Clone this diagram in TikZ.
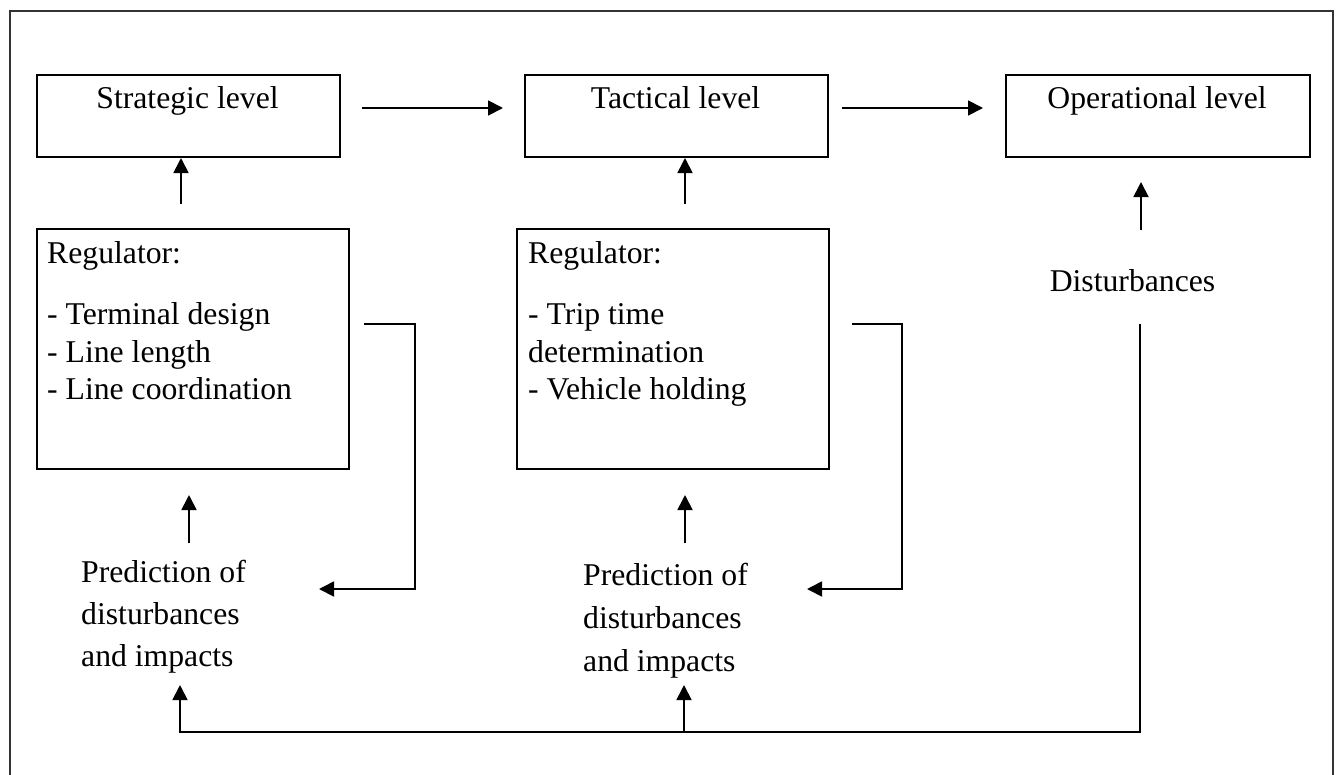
\documentclass[tikz,border=0pt]{standalone}
\usepackage{fontspec}
\setmainfont{Liberation Serif}
\usetikzlibrary{arrows.meta,calc}
\begin{document}
\begin{tikzpicture}[x=1pt,y=-1pt,
  box/.style={draw,line width=2pt,inner sep=0pt,anchor=north west},
  txt/.style={inner sep=0pt,font=\fontsize{31.7}{36}\selectfont},
  ln/.style={txt,anchor=base west},
  wire/.style={line width=1.8pt},
  conn/.style={wire,-{Triangle[length=15pt,width=15pt]}}]
\useasboundingbox (0,0) rectangle (1340,774);

% outer frame
\draw[line width=2.2pt,black!80] (10,790) -- (10,11) -- (1333,11) -- (1333,790);

% level boxes
\node[box,minimum width=303pt,minimum height=82pt] (strat) at (36,74) {};
\node[box,minimum width=303pt,minimum height=82pt] (tact)  at (524,74) {};
\node[box,minimum width=304pt,minimum height=82pt] (oper)  at (1005,74) {};
\node[txt,anchor=base] (stxt) at (187.5,108) {Strategic level};
\node[txt,anchor=base] (ttxt) at (675.5,108) {Tactical level};
\node[txt,anchor=base] (otxt) at (1157,108) {Operational level};

% regulator boxes
\node[box,minimum width=312pt,minimum height=240pt] (reg1) at (36,228) {};
\node[box,minimum width=312pt,minimum height=240pt] (reg2) at (516,228) {};
\node[ln] (r1a) at (47,263) {Regulator:};
\node[ln] (r1b) at (47,324) {- Terminal design};
\node[ln] (r1c) at (47,362) {- Line length};
\node[ln] (r1d) at (47,399) {- Line coordination};
\node[ln] (r2a) at (528,263) {Regulator:};
\node[ln] (r2b) at (528,324) {- Trip time};
\node[ln] (r2c) at (528,362) {determination};
\node[ln] (r2d) at (528,399) {- Vehicle holding};

% disturbance and prediction texts
\node[txt,anchor=base] (dist) at (1132.5,291) {Disturbances};
\node[ln] (p1a) at (81,582) {Prediction of};
\node[ln] (p1b) at (81,624) {disturbances};
\node[ln] (p1c) at (81,666) {and impacts};
\node[ln] (p2a) at (583,585) {Prediction of};
\node[ln] (p2b) at (583,628) {disturbances};
\node[ln] (p2c) at (583,671) {and impacts};

% level-to-level arrows
\draw[conn] ($(strat.east |- stxt.base)+(21,0)$) -- ($(tact.west |- stxt.base)+(-21,0)$);
\draw[conn] ($(tact.east |- ttxt.base)+(13,0)$) -- ($(oper.west |- ttxt.base)+(-22,0)$);

% regulator to level arrows
\draw[conn] ($(reg1.north)+(-12,-24)$) -- ($(strat.south)+(-7.5,0)$);
\draw[conn] ($(reg2.north)+(12,-24)$) -- ($(tact.south)+(8.5,0)$);
\draw[conn] ($(oper.south)+(-17,72)$) -- ($(oper.south)+(-17,24)$);

% prediction to regulator arrows
\draw[conn] ($(reg1.south)+(-4,73)$) -- ($(reg1.south)+(-4,25)$);
\draw[conn] ($(reg2.south)+(12,73)$) -- ($(reg2.south)+(12,25)$);

% regulator feedback loops
\draw[conn] ($(reg1.east)+(14,-25)$) -| ($(reg1.east)+(65,240)$) -- ($(reg1.east)+(-31,240)$);
\draw[conn] ($(reg2.east)+(22,-25)$) -| ($(reg2.east)+(72,240)$) -- ($(reg2.east)+(-23,240)$);

% disturbance bus
\coordinate (busL) at (180,732);
\coordinate (busM) at (684,732);
\draw[conn] ($(dist.south)+(7.5,32)$) |- (busL) -- ($(busL)+(0,-47)$);
\draw[conn] (busM) -- ($(busM)+(0,-47)$);
\end{tikzpicture}
\end{document}
